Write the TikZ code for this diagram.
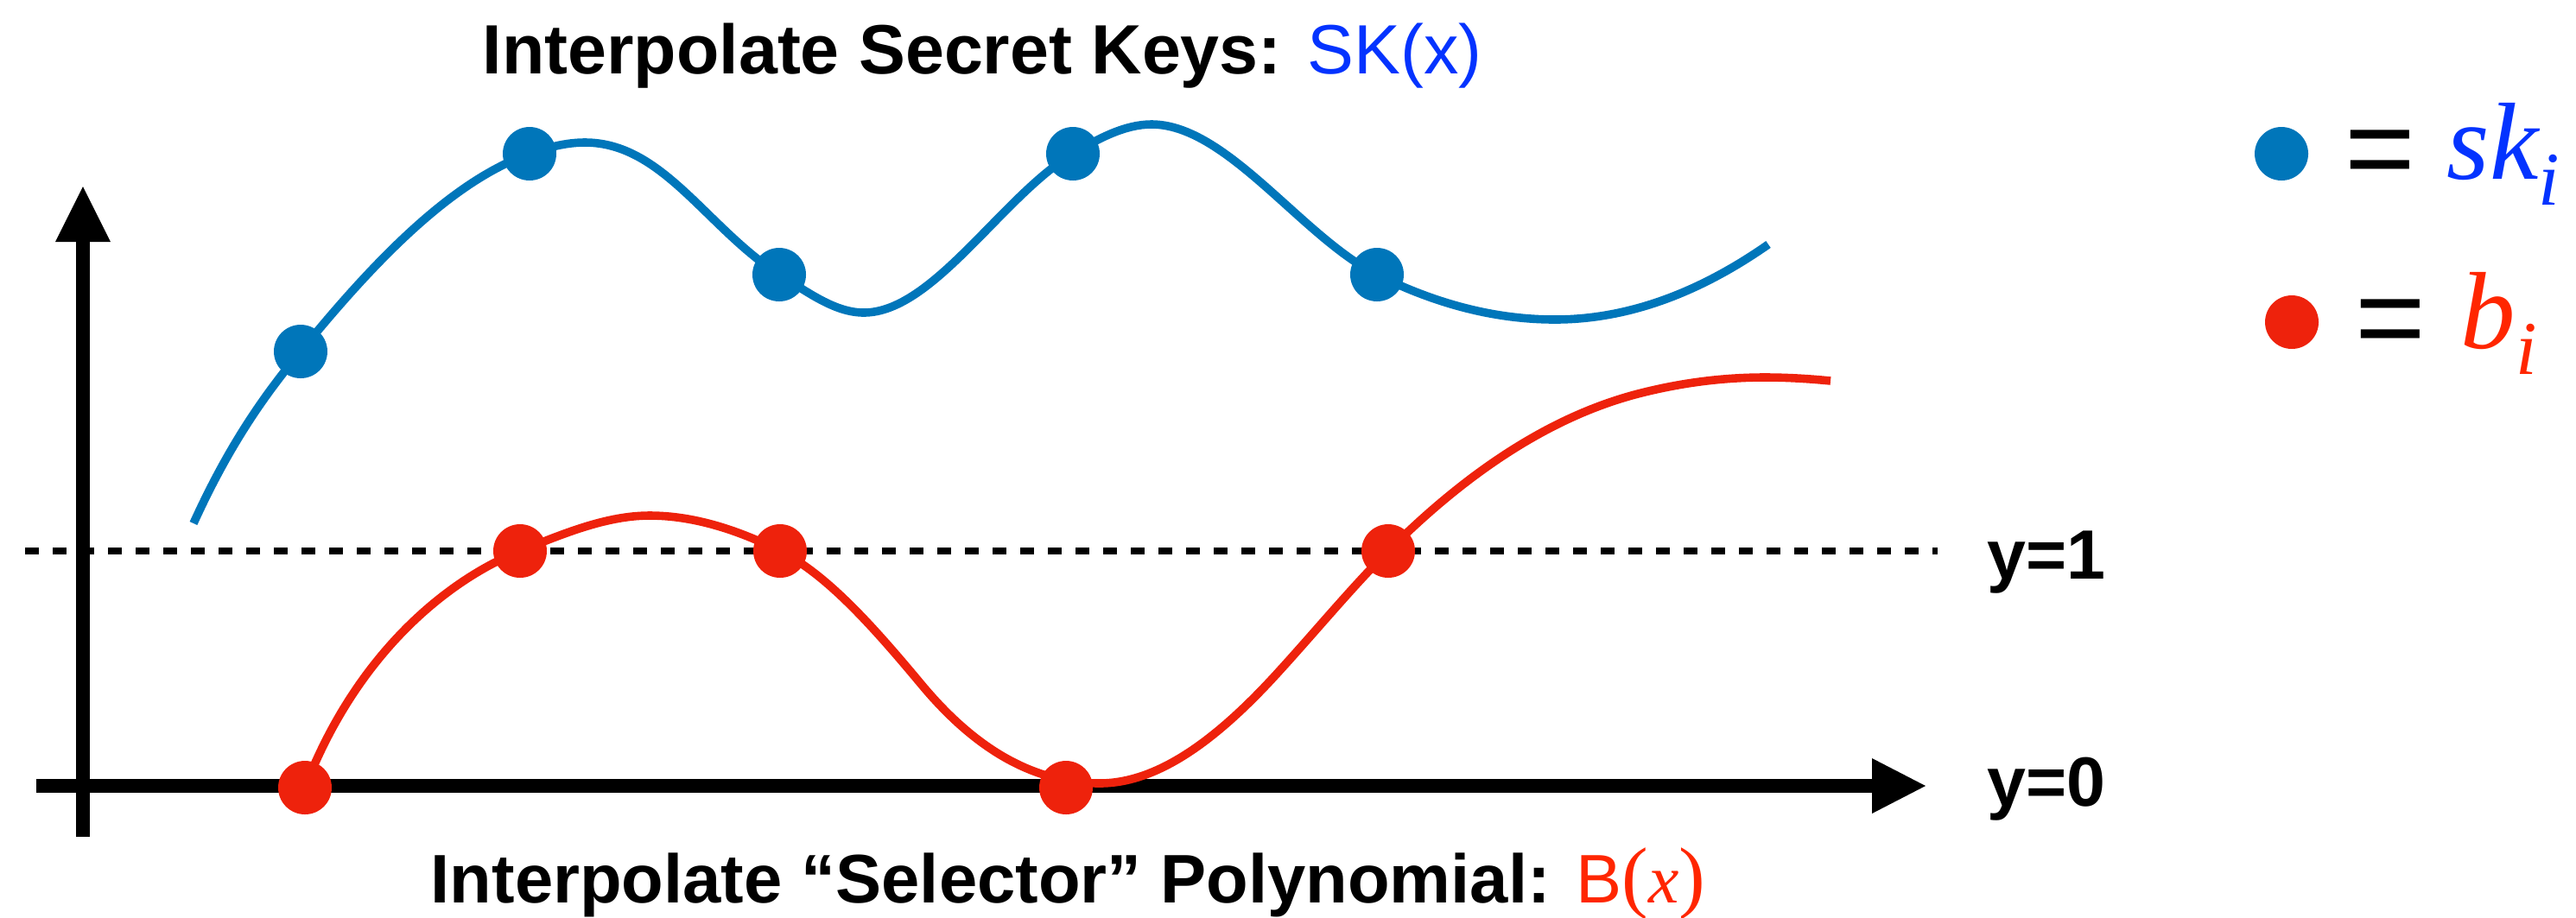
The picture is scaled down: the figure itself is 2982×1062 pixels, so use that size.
\documentclass[tikz,border=0pt]{standalone}
\usepackage{fontspec}
\setmainfont{Liberation Sans}
\newfontfamily\serfont{Liberation Serif}
\definecolor{dotblue}{HTML}{0076BA}
\definecolor{dotred}{HTML}{EE220C}
\definecolor{txtblue}{HTML}{0433FF}
\definecolor{txtred}{HTML}{FF2600}
\begin{document}
\begin{tikzpicture}[x=0.25pt,y=-0.25pt,
  axisline/.style={line width=4pt},
  arrowhead/.style={fill=black},
  level/.style={line width=2pt, dash pattern=on 4pt off 4pt},
  bcurve/.style={draw=dotblue, line width=2.4pt},
  rcurve/.style={draw=dotred, line width=2.4pt},
  bdot/.style={circle, fill=dotblue, minimum size=15.5pt, inner sep=0pt},
  rdot/.style={circle, fill=dotred, minimum size=15.5pt, inner sep=0pt},
  lbl/.style={inner sep=0pt, font=\fontsize{20.2pt}{24pt}\selectfont\bfseries},
  eqsign/.style={inner sep=0pt, anchor=base, font=\fontsize{35pt}{40pt}\selectfont},
  legtxt/.style={inner sep=0pt, anchor=base west, font=\fontsize{31.75pt}{36pt}\selectfont\serfont\itshape}]
\useasboundingbox (0,0) rectangle (2982,1062);

% axes
\coordinate (ybot) at (96,969);
\coordinate (ybase) at (96,279);
\coordinate (ytip) at (96,216);
\coordinate (xleft) at (42,910);
\coordinate (xbase) at (2168,910);
\coordinate (xtip) at (2229,910);
\draw[axisline] (ybot) -- (ybase);
\fill[arrowhead] (64,280) -- (ytip) -- (128,280) -- cycle;
\draw[axisline] (xleft) -- (xbase);
\fill[arrowhead] (2167,878) -- (xtip) -- (2167,942) -- cycle;

% y=1 level
\coordinate (lvlL) at (29,638);
\coordinate (lvlR) at (2243,638);
\draw[level] (lvlL) -- (lvlR);

% points (coordinates)
\coordinate (bs) at (224,606);
\coordinate (p1) at (348,407);
\coordinate (p2) at (613,178);
\coordinate (bpk1) at (677,165);
\coordinate (p3) at (902,318);
\coordinate (bmn1) at (1000,362);
\coordinate (p4) at (1242,178);
\coordinate (bpk2) at (1333,144);
\coordinate (p5) at (1594,318);
\coordinate (bmn2) at (1800,370);
\coordinate (be) at (2047,283);

\coordinate (q1) at (353,912);
\coordinate (q2) at (602,638);
\coordinate (rpk1) at (752,597);
\coordinate (q3) at (903,638);
\coordinate (ra) at (1067,793);
\coordinate (rmn) at (1273,907);
\coordinate (rb) at (1480,778);
\coordinate (q5) at (1607,638);
\coordinate (rc) at (1900,455);
\coordinate (rpk2) at (2043,437);
\coordinate (re) at (2119,441);
\coordinate (q4) at (1234,912);

% blue curve SK(x)
\draw[bcurve] (bs)
  .. controls (265.3,515) and (306.7,456.6) .. (p1)
  .. controls (436.3,298.4) and (524.7,208.9) .. (p2)
  .. controls (634.3,170.5) and (655.7,165) .. (bpk1)
  .. controls (767,165) and (817,263) .. (p3)
  .. controls (935,338) and (966,362) .. (bmn1)
  .. controls (1080,362) and (1160,227) .. (p4)
  .. controls (1272.3,159.8) and (1302.7,144) .. (bpk2)
  .. controls (1420,144) and (1507,274.5) .. (p5)
  .. controls (1662.7,352.3) and (1731.3,370) .. (bmn2)
  .. controls (1882.3,370) and (1964.7,340.6) .. (be);

% red curve B(x)
\draw[rcurve] (q1)
  .. controls (413,756) and (519,671) .. (q2)
  .. controls (652,618) and (702,597) .. (rpk1)
  .. controls (802,597) and (853,613) .. (q3)
  .. controls (957.7,665.3) and (1012.3,727.4) .. (ra)
  .. controls (1135.7,875.4) and (1204.3,907) .. (rmn)
  .. controls (1342,907) and (1411,854) .. (rb)
  .. controls (1522,732) and (1565,680) .. (q5)
  .. controls (1704.7,540.3) and (1802.3,479.4) .. (rc)
  .. controls (1947.7,443) and (1995.3,437) .. (rpk2)
  .. controls (2068,437) and (2094,438.5) .. (re);

% dots
\node[bdot] (b1) at (p1) {};
\node[bdot] (b2) at (p2) {};
\node[bdot] (b3) at (p3) {};
\node[bdot] (b4) at (p4) {};
\node[bdot] (b5) at (p5) {};
\node[rdot] (r1) at (q1) {};
\node[rdot] (r2) at (q2) {};
\node[rdot] (r3) at (q3) {};
\node[rdot] (r4) at (q4) {};
\node[rdot] (r5) at (q5) {};

% texts
\node[lbl, anchor=base west] (title) at (558,85)
  {Interpolate Secret Keys: {\mdseries\color{txtblue}SK(x)}};
\node[lbl, anchor=base west, font=\fontsize{19.9pt}{24pt}\selectfont\bfseries] (btitle) at (498,1045)
  {Interpolate “Selector” Polynomial: {\mdseries\color{txtred}B{\serfont\fontsize{23pt}{24pt}\selectfont(}{\serfont\itshape x}{\serfont\fontsize{23pt}{24pt}\selectfont)}}};
\node[lbl, anchor=base west] (y1) at (2300,670) {y=1};
\node[lbl, anchor=base west] (y0) at (2300,933) {y=0};

% legend
\node[bdot] (legb) at (2641,178) {};
\node[eqsign] (eqb) at (2755,219) {=};
\node[legtxt, text=txtblue] (ski) at (2832,207)
  {sk\raisebox{-7.5pt}{\fontsize{22pt}{26pt}\selectfont i}};
\node[rdot] (legr) at (2653,373) {};
\node[eqsign] (eqr) at (2767,415) {=};
\node[legtxt, text=txtred] (bi) at (2848,403)
  {b\raisebox{-7.5pt}{\fontsize{22pt}{26pt}\selectfont i}};
\end{tikzpicture}
\end{document}
